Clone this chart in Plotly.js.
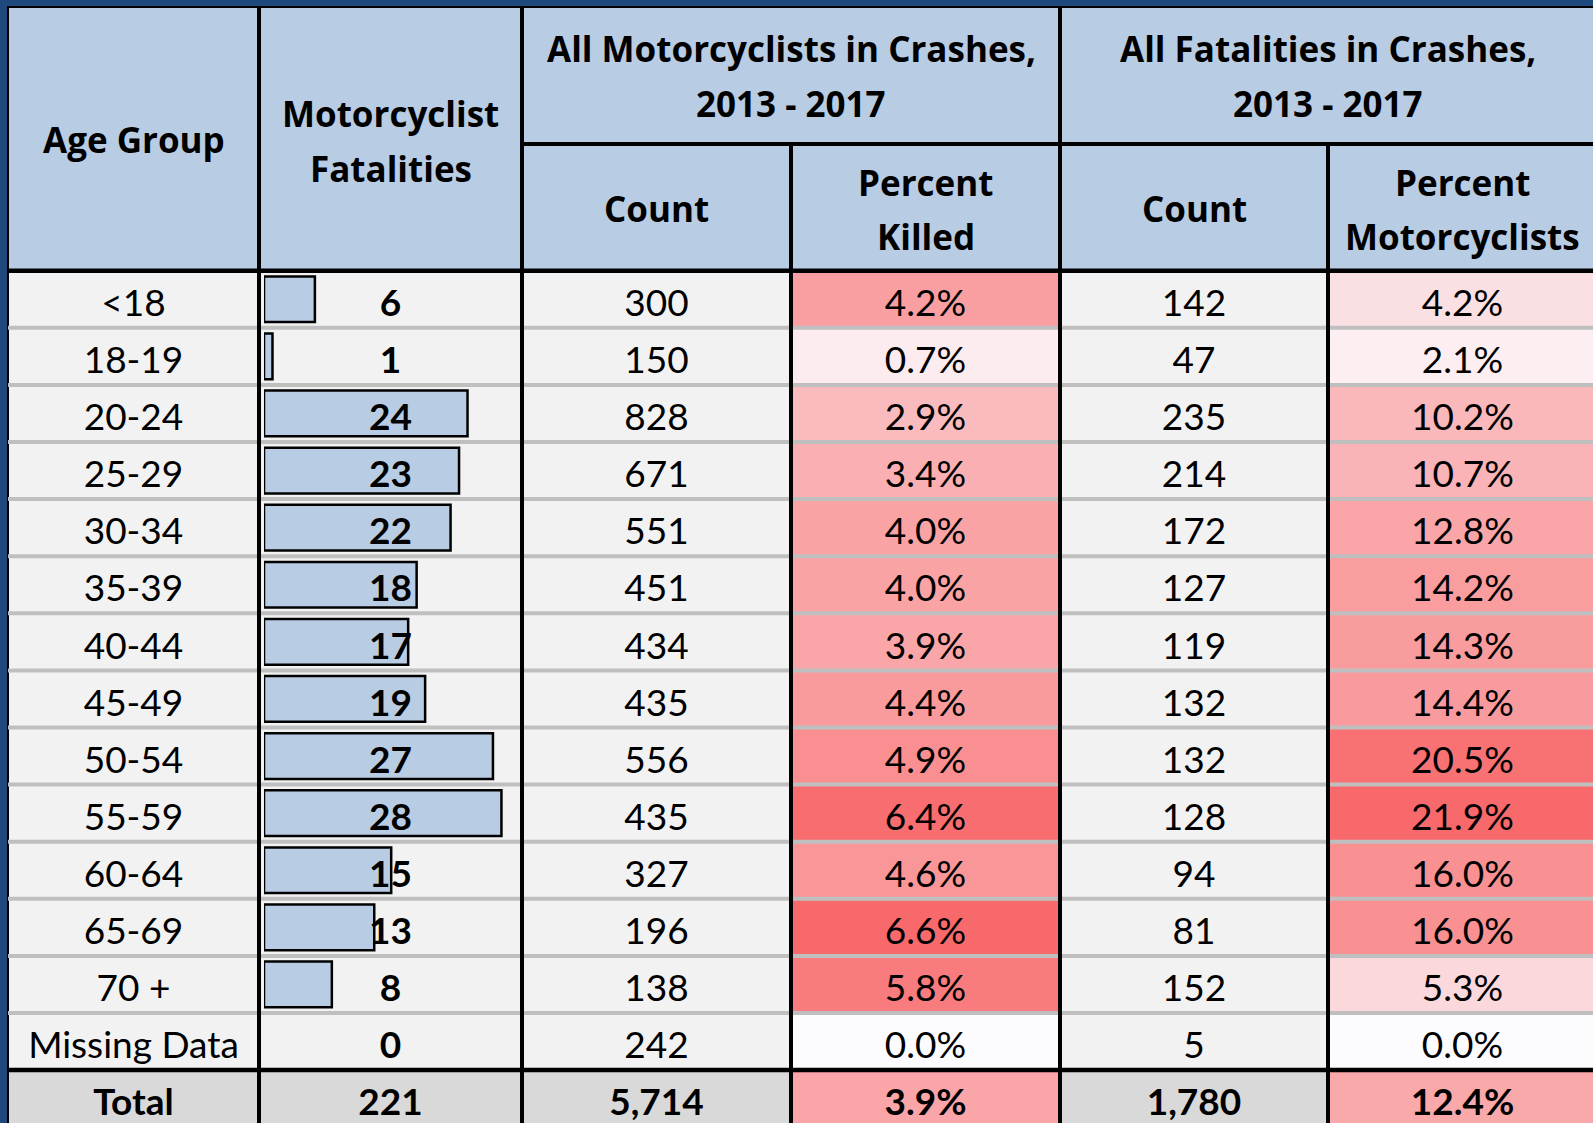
<!DOCTYPE html>
<html><head><meta charset="utf-8">
<script src="https://cdn.plot.ly/plotly-3.0.1.min.js"></script>
<style>html,body{margin:0;padding:0;background:#F2F2F2;overflow:hidden;} #chart{width:1593px;height:1123px;}</style>
</head><body><div id="chart"></div>
<script>
// ---------------- data ----------------
const ageGroups = ['<18','18-19','20-24','25-29','30-34','35-39','40-44','45-49','50-54','55-59','60-64','65-69','70 +','Missing Data'];
const fatalities = [6,1,24,23,22,18,17,19,27,28,15,13,8,0];
const crashCount = [300,150,828,671,551,451,434,435,556,435,327,196,138,242];
const pctKilled = [4.2,0.7,2.9,3.4,4.0,4.0,3.9,4.4,4.9,6.4,4.6,6.6,5.8,0.0];
const fatalCount = [142,47,235,214,172,127,119,132,132,128,94,81,152,5];
const pctMotorcyclists = [4.2,2.1,10.2,10.7,12.8,14.2,14.3,14.4,20.5,21.9,16.0,16.0,5.3,0.0];
const totalLabel = 'Total';
const totalFatalities = 221;
const totalCrashCount = 5714;
const totalPctKilled = 3.9;
const totalFatalCount = 1780;
const totalPctMotorcyclists = 12.4;

const groupHeaders = ['All Motorcyclists in Crashes,', 'All Fatalities in Crashes,'];
const groupSubHeader = '2013 - 2017';

// ---------------- geometry / style ----------------
const W = 1593, H = 1123;
const colEdges = [8, 259, 522, 791, 1060, 1328, 1597];
const colCenter = i => (colEdges[i] + colEdges[i + 1]) / 2;
const headerTop = 7, headerMid = 144, headerBottom = 271;
const rowY0 = 299.25, rowH = 57.1;
const pxToRow = p => (p - rowY0) / rowH;
const nRows = ageGroups.length;
const totalRow = nRows;
const textShift = 0.13;
const FONT = 'Lato, "Open Sans", sans-serif';
const HEAD_FONT = '"Open Sans", Lato, sans-serif';
const bodySize = 37, headSize = 35;
const headerBlue = '#B8CCE4', navy = '#1F497D', cellBg = '#F2F2F2', totalBg = '#D9D9D9', gridGray = '#BFBFBF';
const heatScale = [[0, '#FCFCFF'], [1, '#F8696B']];
const barOrigin = 264, barPxPerUnit = 8.48;

const pct = v => v.toFixed(1) + '%';
const num = v => v.toLocaleString('en-US');

const rowIdx = ageGroups.map((_, i) => i);

// ---------------- traces ----------------
const traces = [];

// heat-map coloured percent columns (body + total row)
function heatTrace(col, vals) {
  const zmax = Math.max(...vals);
  return {
    type: 'heatmap', xaxis: 'x', yaxis: 'y',
    z: vals.map(v => [v]), x0: colCenter(col), dx: colEdges[col + 1] - colEdges[col],
    y0: 0, dy: 1, zmin: 0, zmax: zmax, colorscale: heatScale,
    showscale: false, hoverinfo: 'skip'
  };
}
traces.push(heatTrace(3, pctKilled.concat([totalPctKilled])));
traces.push(heatTrace(5, pctMotorcyclists.concat([totalPctMotorcyclists])));

// data bars for fatalities (no outline for empty bars)
traces.push({
  type: 'bar', orientation: 'h', xaxis: 'x2', yaxis: 'y',
  x: fatalities, y: rowIdx, width: 0.8,
  marker: { color: headerBlue, line: { color: '#000000', width: fatalities.map(v => v > 0 ? 2.5 : 0) } },
  hoverinfo: 'skip', showlegend: false
});

// text columns
function textTrace(col, texts, bold, rows) {
  return {
    type: 'scatter', mode: 'text', xaxis: 'x3', yaxis: 'y',
    x: texts.map(() => colCenter(col)), y: rows.map(r => r + textShift),
    text: texts, textposition: 'middle center', cliponaxis: false,
    textfont: { family: FONT, size: bodySize, color: '#000000', weight: bold ? 'bold' : 'normal' },
    hoverinfo: 'skip', showlegend: false
  };
}
traces.push(textTrace(0, ageGroups, false, rowIdx));
traces.push(textTrace(1, fatalities.map(num), true, rowIdx));
traces.push(textTrace(2, crashCount.map(num), false, rowIdx));
traces.push(textTrace(3, pctKilled.map(pct), false, rowIdx));
traces.push(textTrace(4, fatalCount.map(num), false, rowIdx));
traces.push(textTrace(5, pctMotorcyclists.map(pct), false, rowIdx));
// total row
const totalTexts = [totalLabel, num(totalFatalities), num(totalCrashCount), pct(totalPctKilled), num(totalFatalCount), pct(totalPctMotorcyclists)];
totalTexts.forEach((t, c) => traces.push(textTrace(c, [t], true, [totalRow])));

// ---------------- shapes ----------------
const shapes = [];
const rowTop = r => r - 0.5;
// backgrounds (below)
shapes.push({ type: 'rect', layer: 'below', xref: 'x', yref: 'y', x0: colEdges[0], x1: W, y0: pxToRow(headerTop), y1: pxToRow(headerBottom), fillcolor: headerBlue, line: { width: 0 } });
shapes.push({ type: 'rect', layer: 'below', xref: 'x', yref: 'y', x0: colEdges[0], x1: W, y0: rowTop(0), y1: rowTop(totalRow), fillcolor: cellBg, line: { width: 0 } });
shapes.push({ type: 'rect', layer: 'below', xref: 'x', yref: 'y', x0: colEdges[0], x1: W, y0: rowTop(totalRow), y1: pxToRow(H + 5), fillcolor: totalBg, line: { width: 0 } });
// navy frame
shapes.push({ type: 'rect', layer: 'above', xref: 'x', yref: 'y', x0: 0, x1: W, y0: pxToRow(0), y1: pxToRow(headerTop - 1), fillcolor: navy, line: { width: 0 } });
shapes.push({ type: 'rect', layer: 'above', xref: 'x', yref: 'y', x0: 0, x1: colEdges[0] - 1, y0: pxToRow(0), y1: pxToRow(H), fillcolor: navy, line: { width: 0 } });
const hLine = (x0, x1, y, color, w) => ({ type: 'line', layer: 'above', xref: 'x', yref: 'y', x0, x1, y0: y, y1: y, line: { color, width: w } });
const vLine = (x, y0, y1, color, w) => ({ type: 'line', layer: 'above', xref: 'x', yref: 'y', x0: x, x1: x, y0, y1, line: { color, width: w } });
// outer thin black border
shapes.push(hLine(colEdges[0] - 1, W, pxToRow(headerTop), '#000000', 2));
shapes.push(vLine(colEdges[0], pxToRow(headerTop), pxToRow(H), '#000000', 2));
// gray row separators
for (let r = 0; r < nRows - 1; r++) shapes.push(hLine(colEdges[0], W, r + 0.5, gridGray, 4));
// black horizontals
shapes.push(hLine(colEdges[2], W, pxToRow(headerMid), '#000000', 4));
shapes.push(hLine(colEdges[0], W, rowTop(0), '#000000', 4.5));
shapes.push(hLine(colEdges[0], W, rowTop(totalRow), '#000000', 4.5));
// black verticals
[1, 2, 4].forEach(c => shapes.push(vLine(colEdges[c], pxToRow(headerTop), pxToRow(H + 5), '#000000', 4)));
[3, 5].forEach(c => shapes.push(vLine(colEdges[c], pxToRow(headerMid), pxToRow(H + 5), '#000000', 4)));

// ---------------- header annotations ----------------
const annotations = [];
const head = (text, x, ypx) => annotations.push({
  text, x, y: pxToRow(ypx), xref: 'x', yref: 'y', showarrow: false,
  xanchor: 'center', yanchor: 'middle',
  font: { family: HEAD_FONT, size: headSize, color: '#000000', weight: 'bold' }
});
head('Age Group', colCenter(0), 139);
head('Motorcyclist', colCenter(1), 113);
head('Fatalities', colCenter(1), 168);
head(groupHeaders[0], colEdges[3], 48.5);
head(groupSubHeader, colEdges[3], 103.5);
head(groupHeaders[1], colEdges[5], 48.5);
head(groupSubHeader, colEdges[5], 103.5);
head('Count', colCenter(2), 208.5);
head('Percent', colCenter(3), 182.5);
head('Killed', colCenter(3), 236.5);
head('Count', colCenter(4), 208.5);
head('Percent', colCenter(5), 182.5);
head('Motorcyclists', colCenter(5), 236.5);

// ---------------- layout ----------------
const hidden = { visible: false, showgrid: false, zeroline: false, fixedrange: true };
const layout = {
  width: W, height: H,
  margin: { l: 0, r: 0, t: 0, b: 0, pad: 0 },
  paper_bgcolor: cellBg, plot_bgcolor: 'rgba(0,0,0,0)',
  showlegend: false,
  xaxis: Object.assign({}, hidden, { domain: [0, 1], range: [0, W], anchor: 'y' }),
  xaxis2: Object.assign({}, hidden, { domain: [barOrigin / W, colEdges[2] / W], range: [0, (colEdges[2] - barOrigin) / barPxPerUnit], anchor: 'y' }),
  xaxis3: Object.assign({}, hidden, { domain: [0, 1], range: [0, W], anchor: 'y' }),
  yaxis: Object.assign({}, hidden, { domain: [0, 1], range: [pxToRow(H), pxToRow(0)], anchor: 'x' }),
  bargap: 0,
  shapes, annotations
};

Plotly.newPlot('chart', traces, layout, { staticPlot: true, displayModeBar: false });
</script>
</body></html>
